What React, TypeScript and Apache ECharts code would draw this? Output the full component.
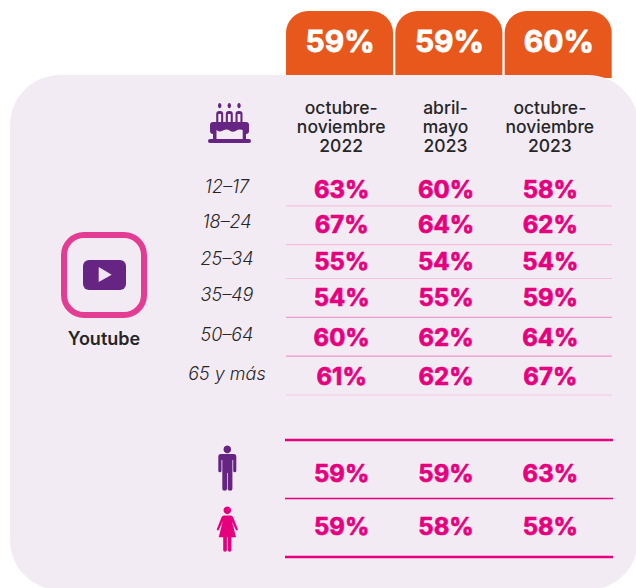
import React, { useEffect, useRef } from "react";
import * as echarts from "echarts";

const periods = ["octubre-\nnoviembre\n2022", "abril-\nmayo\n2023", "octubre-\nnoviembre\n2023"];
const totals = [59, 59, 60];
const ageGroups = ["12–17", "18–24", "25–34", "35–49", "50–64", "65 y más"];
const age1217 = [63, 60, 58];
const age1824 = [67, 64, 62];
const age2534 = [55, 54, 54];
const age3549 = [54, 55, 59];
const age5064 = [60, 62, 64];
const age65 = [61, 62, 67];
const genders = ["Hombres", "Mujeres"];
const men = [59, 59, 63];
const women = [59, 58, 58];
const platform = "Youtube";

// layout-only tweaks: the source's rows are not evenly spaced
const valueNudge = [3, 0, -1, -3, -1, 0];
const ruleNudge = [0, 1, -3, -2, -1, 0];
const ruleColors = ["#f5c4de", "#f6bcdc", "#f6bfdd", "#ee9ccb", "#f993cd", "#f3c8e1"];
const genderValueNudge = [4, -1];

const FONT = "Inter, 'Noto Sans', sans-serif";
const PINK = "#e6007e";
const PURPLE = "#662483";
const ORANGE = "#e8581c";
const PANEL = "#f3ebf4";
const DARK = "#262626";

echarts.graphic.registerShape(
  "manIcon",
  echarts.graphic.extendPath(
    "M220.8 454 H233.8 Q236.3 454 236.3 456.5 V470.8 Q236.3 472.3 234.8 472.3 Q233.2 472.3 233.2 470.8 V460 H232.4 V489 Q232.4 490.8 230.2 490.8 Q227.7 490.8 227.7 489 V473 H227 V489 Q227 490.8 224.6 490.8 Q222.3 490.8 222.3 489 V460 H221.5 V470.8 Q221.5 472.3 219.9 472.3 Q218.3 472.3 218.3 470.8 V456.5 Q218.3 454 220.8 454 Z",
    {}
  )
);
echarts.graphic.registerShape(
  "womanIcon",
  echarts.graphic.extendPath(
    "M224 515.6 H230.6 Q232.4 515.6 233.2 517.6 L237.8 529 Q238 530.4 237 530.6 Q236.2 530.6 235.6 529.6 L232 521.5 L236 537.3 H231.4 V550 Q231.4 551.7 229.6 551.7 Q227.8 551.7 227.8 550 V537.3 H226.9 V550 Q226.9 551.7 225 551.7 Q223.2 551.7 223.2 550 V537.3 H218.7 L222.7 521.5 L219 529.6 Q218.5 530.6 217.7 530.6 Q216.6 530.4 216.9 529 L221.4 517.6 Q222.2 515.6 224 515.6 Z",
    {}
  )
);
echarts.graphic.registerShape(
  "cakeInside",
  echarts.graphic.extendPath(
    "M216.5 130 Q219 132.5 223 130.5 Q227 128.5 229.5 130.5 Q233 133 236 130.8 Q239 128.8 242.7 130 V139.5 H216.5 Z",
    {}
  )
);

const candleXs = [219.7, 229.3, 239];

function App() {
  const ref = useRef<HTMLDivElement>(null);
  useEffect(() => {
    const chart = echarts.init(ref.current!, undefined, { renderer: "svg" });

    const ageRows = [age1217, age1824, age2534, age3549, age5064, age65];
    const ageData: number[][] = [];
    ageRows.forEach((r, i) => r.forEach((v, c) => ageData.push([c, i, v])));
    const genderData: number[][] = [];
    [men, women].forEach((r, i) => r.forEach((v, c) => genderData.push([c, i, v])));

    const valueText = (nudges: number[]) => (_: any, api: any) => {
      const [x, y] = api.coord([api.value(0), api.value(1)]);
      return {
        type: "text",
        style: {
          text: api.value(2) + "%",
          x: x + 0.5,
          y: y + nudges[api.value(1)],
          align: "center",
          verticalAlign: "middle",
          fill: PINK,
          font: `700 24px ${FONT}`,
          stroke: PINK,
          lineWidth: 0.7,
        },
      };
    };

    const option: any = {
      animation: false,
      backgroundColor: "#ffffff",
      grid: [
        { left: 286, top: 11, width: 328, height: 67 },
        { left: 289, top: 168, width: 313, height: 227 },
        { left: 289, top: 440, width: 313, height: 117 },
      ],
      xAxis: [
        { gridIndex: 0, type: "category", data: periods, show: false },
        {
          gridIndex: 1,
          type: "category",
          data: periods,
          position: "top",
          z: 9,
          axisLine: { show: false },
          axisTick: { show: false },
          axisLabel: {
            interval: 0,
            margin: 13.5,
            color: DARK,
            fontFamily: FONT,
            fontWeight: 500,
            fontSize: 17.5,
            lineHeight: 19,
          },
        },
        { gridIndex: 2, type: "category", data: periods, show: false },
      ],
      yAxis: [
        { gridIndex: 0, type: "value", min: 0, max: 1, show: false },
        { gridIndex: 1, type: "category", data: ageGroups, inverse: true, show: false },
        { gridIndex: 2, type: "category", data: genders, inverse: true, show: false },
      ],
      graphic: {
        elements: [
          { type: "rect", z: 5, shape: { x: 10, y: 75, width: 628, height: 515, r: 50 }, style: { fill: PANEL } },
          // platform icon
          { type: "rect", z: 10, shape: { x: 64, y: 235, width: 80, height: 80, r: 20 }, style: { fill: "none", stroke: "#e23d92", lineWidth: 6 } },
          { type: "rect", z: 10, shape: { x: 83, y: 260, width: 43, height: 30, r: 6 }, style: { fill: PURPLE } },
          { type: "polygon", z: 11, shape: { points: [[98.7, 267], [111.7, 274.7], [98.7, 282]] }, style: { fill: "#efe4f0" } },
          { type: "text", z: 10, style: { text: platform, x: 104, y: 338, align: "center", verticalAlign: "middle", fill: DARK, font: `600 18px ${FONT}` } },
          // cake icon
          ...candleXs.flatMap((cx) => [
            { type: "ellipse", z: 10, shape: { cx, cy: 105.6, rx: 1.7, ry: 2.7 }, style: { fill: PURPLE } },
            { type: "rect", z: 10, shape: { x: cx - 3.5, y: 111, width: 7, height: 12, r: [3, 3, 0, 0] }, style: { fill: PURPLE } },
            { type: "rect", z: 11, shape: { x: cx - 1.4, y: 114, width: 2.8, height: 8 }, style: { fill: PANEL } },
          ]),
          { type: "rect", z: 10, shape: { x: 210, y: 122, width: 39, height: 12, r: 3 }, style: { fill: PURPLE } },
          { type: "rect", z: 10, shape: { x: 213, y: 130, width: 33, height: 10 }, style: { fill: PURPLE } },
          { type: "cakeInside", z: 11, style: { fill: PANEL } },
          { type: "rect", z: 12, shape: { x: 208, y: 139, width: 43, height: 4, r: 2 }, style: { fill: PURPLE } },
          // gender icons
          { type: "circle", z: 10, shape: { cx: 227.3, cy: 449.4, r: 3.8 }, style: { fill: PURPLE } },
          { type: "manIcon", z: 10, style: { fill: PURPLE } },
          { type: "circle", z: 10, shape: { cx: 227.3, cy: 510.3, r: 3.8 }, style: { fill: PINK } },
          { type: "womanIcon", z: 10, style: { fill: PINK } },
        ],
      },
      series: [
        {
          type: "custom",
          name: "Total",
          xAxisIndex: 0,
          yAxisIndex: 0,
          z: 1,
          data: totals.map((v, c) => [c, 1, v]),
          renderItem: (_: any, api: any) => {
            const [x, y] = api.coord([api.value(0), 1]);
            const [, y0] = api.coord([api.value(0), 0]);
            const w = api.size([1, 0])[0];
            return {
              type: "group",
              children: [
                {
                  type: "rect",
                  shape: { x: x - w / 2, y, width: w - 2.3, height: y0 - y, r: [22, 22, 0, 0] },
                  style: { fill: ORANGE },
                },
                {
                  type: "text",
                  style: {
                    text: api.value(2) + "%",
                    x: x - 0.5,
                    y: y + 30,
                    align: "center",
                    verticalAlign: "middle",
                    fill: "#ffffff",
                    font: `700 30px ${FONT}`,
                    stroke: "#ffffff",
                    lineWidth: 0.8,
                  },
                },
              ],
            };
          },
        },
        {
          type: "custom",
          name: "Edad reglas",
          xAxisIndex: 1,
          yAxisIndex: 1,
          z: 8,
          data: ageGroups.map((_, i) => [0, i]),
          renderItem: (params: any, api: any) => {
            const i = api.value(1);
            const [, yc] = api.coord([0, i]);
            const y = yc + api.size([0, 1])[1] / 2 + ruleNudge[i];
            const cs = params.coordSys;
            return {
              type: "line",
              shape: { x1: cs.x - 3, y1: y, x2: cs.x + cs.width + 10, y2: y },
              style: { stroke: ruleColors[i], lineWidth: 1.2 },
            };
          },
        },
        {
          type: "custom",
          name: "Edad",
          xAxisIndex: 1,
          yAxisIndex: 1,
          z: 9,
          data: ageData,
          renderItem: valueText(valueNudge),
        },
        {
          type: "custom",
          name: "Edad etiquetas",
          xAxisIndex: 1,
          yAxisIndex: 1,
          z: 9,
          data: ageGroups.map((_, i) => [0, i]),
          renderItem: (params: any, api: any) => {
            const i = api.value(1);
            const [, y] = api.coord([0, i]);
            return {
              type: "text",
              style: {
                text: ageGroups[i],
                x: params.coordSys.x - 62,
                y: y + valueNudge[i] - 3,
                align: "center",
                verticalAlign: "middle",
                fill: DARK,
                font: `italic 300 18px ${FONT}`,
              },
            };
          },
        },
        {
          type: "custom",
          name: "Sexo reglas",
          xAxisIndex: 2,
          yAxisIndex: 2,
          z: 8,
          data: [[0, -0.5], [0, 0.5], [0, 1.5]],
          renderItem: (params: any, api: any) => {
            const cs = params.coordSys;
            const band = api.size([0, 1])[1];
            const y = cs.y + band * (api.value(1) + 0.5);
            return {
              type: "line",
              shape: { x1: cs.x - 4, y1: y, x2: cs.x + cs.width + 11, y2: y },
              style: { stroke: PINK, lineWidth: api.value(1) === 0.5 ? 1.6 : 2.4 },
            };
          },
        },
        {
          type: "custom",
          name: "Sexo",
          xAxisIndex: 2,
          yAxisIndex: 2,
          z: 9,
          data: genderData,
          renderItem: valueText(genderValueNudge),
        },
      ],
    };
    chart.setOption(option);
    return () => chart.dispose();
  }, []);
  return <div ref={ref} style={{ position: "absolute", left: 0, top: 0, width: 636, height: 588 }} />;
}

export default App;
